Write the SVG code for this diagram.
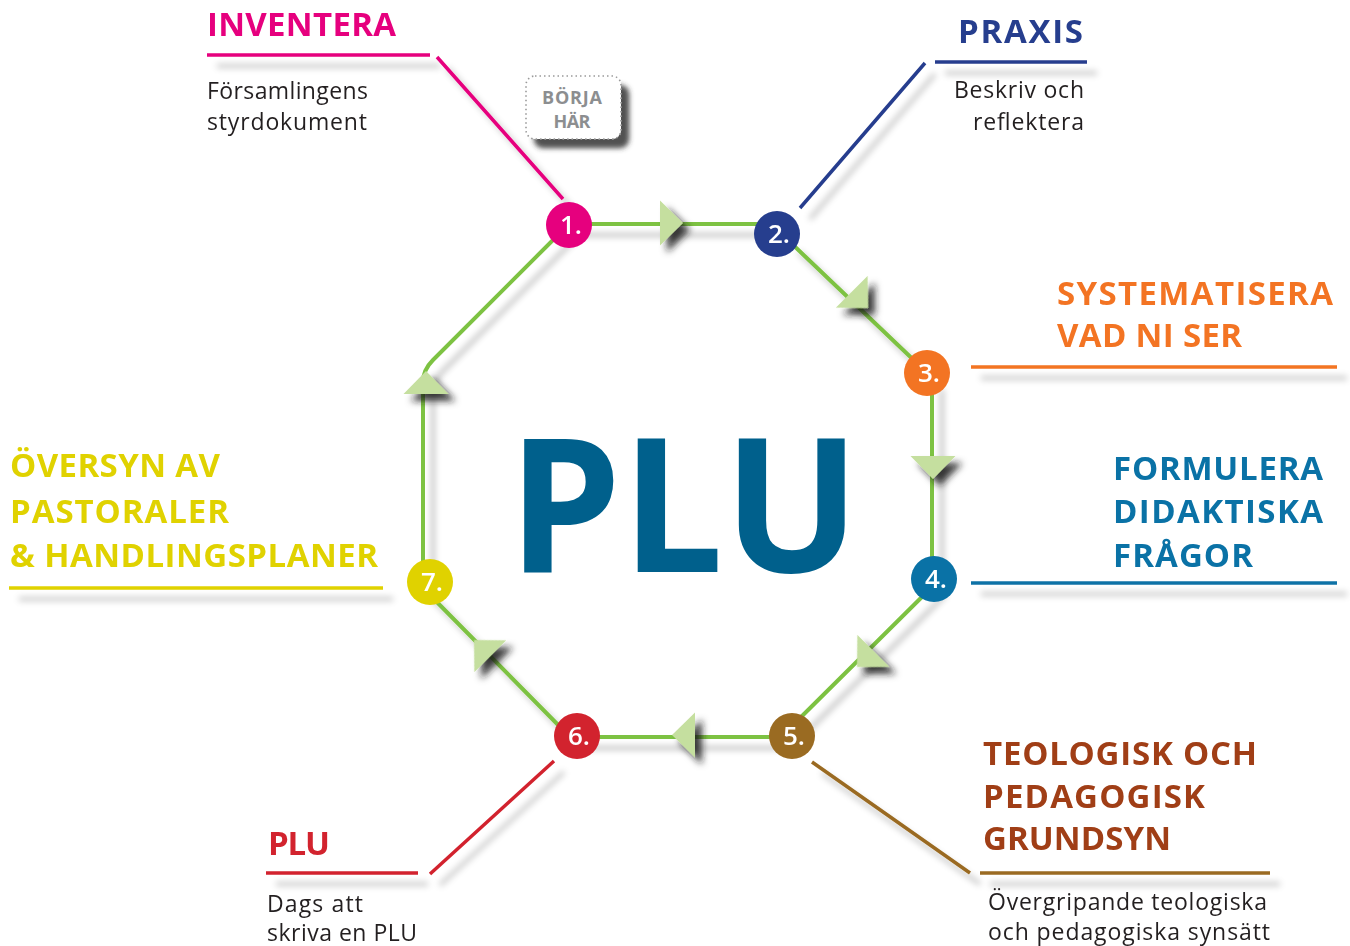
<svg xmlns="http://www.w3.org/2000/svg" xmlns:xlink="http://www.w3.org/1999/xlink" width="1350" height="946" viewBox="0 0 1350 946">
<defs>
  <filter id="lsh" filterUnits="userSpaceOnUse" x="0" y="0" width="1350" height="946">
    <feGaussianBlur in="SourceAlpha" stdDeviation="3"/>
    <feOffset dx="10" dy="11" result="b"/>
    <feFlood flood-color="#000" flood-opacity="0.25"/>
    <feComposite in2="b" operator="in"/>
    <feMerge><feMergeNode/><feMergeNode in="SourceGraphic"/></feMerge>
  </filter>
  <filter id="ash" filterUnits="userSpaceOnUse" x="0" y="0" width="1350" height="946">
    <feGaussianBlur in="SourceAlpha" stdDeviation="3.5"/>
    <feOffset dx="7" dy="7" result="b"/>
    <feFlood flood-color="#1a1a1a" flood-opacity="0.85"/>
    <feComposite in2="b" operator="in"/>
    <feMerge><feMergeNode/><feMergeNode in="SourceGraphic"/></feMerge>
  </filter>
  <filter id="bsh" filterUnits="userSpaceOnUse" x="0" y="0" width="1350" height="946">
    <feGaussianBlur in="SourceAlpha" stdDeviation="2.5"/>
    <feOffset dx="8" dy="9" result="b"/>
    <feFlood flood-color="#333" flood-opacity="0.85"/>
    <feComposite in2="b" operator="in"/>
    <feMerge><feMergeNode/><feMergeNode in="SourceGraphic"/></feMerge>
  </filter>
  <polygon id="ah" points="0,0 -23,-22.5 -23,22.5"/>
  <style>
    .flow{fill:none;stroke:#7dc242;stroke-width:4;stroke-linecap:round;stroke-linejoin:round}
    .arr{fill:#c5df9f}
    .lead{fill:none;stroke-width:3.5}
    .h{font-family:"Open Sans","Liberation Sans",sans-serif;font-weight:700;font-size:33px}
    .sb{font-family:"Open Sans","Liberation Sans",sans-serif;font-weight:700;font-size:18px;fill:#8c8e90;text-anchor:middle}
    .b{font-family:"Open Sans","Liberation Sans",sans-serif;font-weight:500;font-size:23px;fill:#231f20}
    .num{font-family:"Open Sans","Liberation Sans",sans-serif;font-weight:600;font-size:26px;fill:#fff;text-anchor:middle}
  </style>
</defs>
<rect width="1350" height="946" fill="#fff"/>

<g id="connectors">
  <g filter="url(#lsh)">
    <path class="flow" d="M569 224 H768"/>
    <path class="flow" d="M790 242 L922 368"/>
    <path class="flow" d="M932 380 V572"/>
    <path class="flow" d="M934 585 L795 723"/>
    <path class="flow" d="M577 737 H770 Q780 737 785 732"/>
    <path class="flow" d="M570 737 L426 591"/>
    <path class="flow" d="M423 590 V382 Q423 370 433 360 L565 228"/>
  </g>
  <g class="arr" filter="url(#ash)">
    <use xlink:href="#ah" transform="translate(683,223)"/>
    <use xlink:href="#ah" transform="translate(868,308) rotate(45)"/>
    <use xlink:href="#ah" transform="translate(933,479) rotate(90)"/>
    <use xlink:href="#ah" transform="translate(857,667) rotate(135)"/>
    <use xlink:href="#ah" transform="translate(672,735) rotate(180)"/>
    <use xlink:href="#ah" transform="translate(474,640) rotate(225)"/>
    <use xlink:href="#ah" transform="translate(426,371) rotate(270)"/>
  </g>
</g>

<g id="center-title">
  <text x="508" y="572" font-family="'Open Sans','Liberation Sans',sans-serif" font-weight="700" font-size="186" fill="#00608c" textLength="352" lengthAdjust="spacingAndGlyphs">PLU</text>
</g>

<g id="start-box">
  <rect x="526" y="76" width="95" height="63" rx="9" fill="#fff" stroke="#9a9a9a" stroke-width="1.6" stroke-dasharray="1.5 3" filter="url(#bsh)"/>
  <text x="572" y="104" class="sb" textLength="60">BÖRJA</text>
  <text x="572" y="128" class="sb" textLength="37">HÄR</text>
</g>

<g id="node1">
  <path class="lead" stroke="#e6007e" d="M207 55 H430 M437 57 L563 199" filter="url(#lsh)"/>
  <text x="207" y="36" class="h" fill="#e6007e" textLength="189">INVENTERA</text>
  <text x="207" y="99" class="b" textLength="161">Församlingens</text>
  <text x="207" y="130" class="b" textLength="160">styrdokument</text>
  <circle cx="569" cy="225" r="23" fill="#e6007e"/>
  <text x="571" y="234" class="num">1.</text>
</g>

<g id="node2">
  <path class="lead" stroke="#263e8e" d="M935 62 H1087 M925 63 L800 208" filter="url(#lsh)"/>
  <text x="1083" y="43" class="h" fill="#263e8e" text-anchor="end" textLength="125">PRAXIS</text>
  <text x="1084" y="98" class="b" text-anchor="end" textLength="130">Beskriv och</text>
  <text x="1084" y="130" class="b" text-anchor="end" textLength="111">reflektera</text>
  <circle cx="777" cy="234" r="23" fill="#263e8e"/>
  <text x="779" y="243" class="num">2.</text>
</g>

<g id="node3">
  <path class="lead" stroke="#f37423" d="M971 367 H1337" filter="url(#lsh)"/>
  <text x="1057" y="305" class="h" fill="#f37423" textLength="276">SYSTEMATISERA</text>
  <text x="1057" y="347" class="h" fill="#f37423" textLength="185">VAD NI SER</text>
  <circle cx="927" cy="373" r="23" fill="#f37423"/>
  <text x="929" y="382" class="num">3.</text>
</g>

<g id="node4">
  <path class="lead" stroke="#0a72a6" d="M971 583 H1337" filter="url(#lsh)"/>
  <text x="1113" y="480" class="h" fill="#0a72a6" textLength="210">FORMULERA</text>
  <text x="1113" y="523" class="h" fill="#0a72a6" textLength="210">DIDAKTISKA</text>
  <text x="1113" y="567" class="h" fill="#0a72a6" textLength="140">FRÅGOR</text>
  <circle cx="934" cy="579" r="23" fill="#0a72a6"/>
  <text x="936" y="588" class="num">4.</text>
</g>

<g id="node5">
  <path class="lead" stroke="#9a6b22" d="M980 873 H1270 M812 762 L970 873" filter="url(#lsh)"/>
  <text x="983" y="765" class="h" fill="#a03e16" textLength="274">TEOLOGISK OCH</text>
  <text x="983" y="808" class="h" fill="#a03e16" textLength="222">PEDAGOGISK</text>
  <text x="983" y="850" class="h" fill="#a03e16" textLength="188">GRUNDSYN</text>
  <text x="988" y="910" class="b" textLength="279">Övergripande teologiska</text>
  <text x="988" y="940" class="b" textLength="282">och pedagogiska synsätt</text>
  <circle cx="792" cy="736" r="23" fill="#9a6b22"/>
  <text x="794" y="745" class="num">5.</text>
</g>

<g id="node6">
  <path class="lead" stroke="#d2232e" d="M266 873 H418 M430 874 L554 761" filter="url(#lsh)"/>
  <text x="268" y="855" class="h" fill="#d2232e" textLength="62">PLU</text>
  <text x="267" y="912" class="b" textLength="96">Dags att</text>
  <text x="267" y="941" class="b" textLength="150">skriva en PLU</text>
  <circle cx="577" cy="736" r="23" fill="#d2232e"/>
  <text x="579" y="745" class="num">6.</text>
</g>

<g id="node7">
  <path class="lead" stroke="#e0d200" d="M9 588 H383" filter="url(#lsh)"/>
  <text x="10" y="477" class="h" fill="#e0d200" textLength="210">ÖVERSYN AV</text>
  <text x="10" y="523" class="h" fill="#e0d200" textLength="219">PASTORALER</text>
  <text x="10" y="567" class="h" fill="#e0d200" textLength="368">&amp; HANDLINGSPLANER</text>
  <circle cx="430" cy="582" r="23" fill="#e0d200"/>
  <text x="432" y="591" class="num">7.</text>
</g>
</svg>
